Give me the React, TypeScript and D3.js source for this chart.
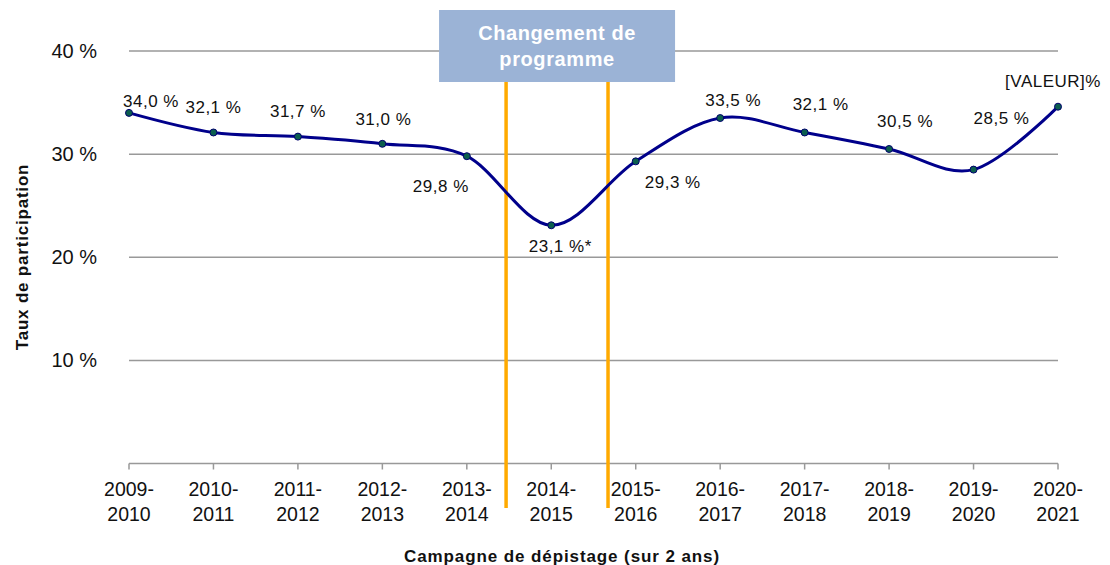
import React from "react";
import * as d3 from "d3";

const categories = [
  ["2009-", "2010"], ["2010-", "2011"], ["2011-", "2012"], ["2012-", "2013"],
  ["2013-", "2014"], ["2014-", "2015"], ["2015-", "2016"], ["2016-", "2017"],
  ["2017-", "2018"], ["2018-", "2019"], ["2019-", "2020"], ["2020-", "2021"],
];
const values = [34.0, 32.1, 31.7, 31.0, 29.8, 23.1, 29.3, 33.5, 32.1, 30.5, 28.5, 34.6];
const valueLabels = ["34,0 %", "32,1 %", "31,7 %", "31,0 %", "29,8 %", "23,1 %*", "29,3 %", "33,5 %", "32,1 %", "30,5 %", "28,5 %", "[VALEUR]%"];
const yTicks = [10, 20, 30, 40];
const yTickLabels = ["10 %", "20 %", "30 %", "40 %"];
// programme change markers, in category-index units
const changeMarks = [4.465, 5.672];
const changeText = ["Changement de", "programme"];

// label placement offsets (layout)
const labelOffsets: [number, number][] = [
  [22, -11], [0, -25], [0, -25], [1, -24], [-26, 30], [9, 21],
  [37, 21], [13, -18], [16, -28], [16, -27], [28, -51], [-5, -25],
];

const W = 1110, H = 565;
const FONT = "'Liberation Sans', Arial, sans-serif";

export default function App() {
  const x = d3.scaleLinear().domain([0, categories.length - 1]).range([129, 1058]);
  const y = d3.scaleLinear().domain([0, 40]).range([463.5, 51]);
  const line = d3.line<number>()
    .x((_, i) => x(i))
    .y((d) => y(d))
    .curve(d3.curveCardinal.tension(0));
  const boxCx = (x(changeMarks[0]) + x(changeMarks[1])) / 2;
  const boxW = 236;

  return (
    <svg width={W} height={H} style={{ position: "absolute", left: 0, top: 0, background: "#fff" }} fontFamily={FONT}>
      {/* gridlines */}
      {yTicks.map((t) => (
        <line key={t} x1={x(0)} x2={x(11)} y1={y(t)} y2={y(t)} stroke="#999" strokeWidth={1.5} />
      ))}
      {/* y tick labels */}
      {yTicks.map((t, i) => (
        <text key={t} x={97} y={y(t)} textAnchor="end" dominantBaseline="central" fontSize={20} fill="#111">
          {yTickLabels[i]}
        </text>
      ))}
      {/* x axis */}
      <line x1={x(0)} x2={x(11)} y1={y(0)} y2={y(0)} stroke="#999" strokeWidth={1.5} />
      {categories.map((c, i) => (
        <g key={i}>
          <line x1={x(i)} x2={x(i)} y1={y(0)} y2={y(0) + 6} stroke="#999" strokeWidth={1.5} />
          <text x={x(i)} y={496} textAnchor="middle" fontSize={19.5} fill="#111">{c[0]}</text>
          <text x={x(i)} y={521} textAnchor="middle" fontSize={19.5} fill="#111">{c[1]}</text>
        </g>
      ))}
      {/* change lines */}
      {changeMarks.map((m, i) => (
        <line key={i} x1={x(m)} x2={x(m)} y1={82} y2={508} stroke="#FFAA00" strokeWidth={3.5} />
      ))}
      {/* box */}
      <rect x={boxCx - boxW / 2} y={10} width={boxW} height={72} fill="#9BB3D6" />
      {changeText.map((t, i) => (
        <text key={i} x={boxCx} y={40 + i * 26} textAnchor="middle" fontSize={20} letterSpacing={0.6} fontWeight="bold" fill="#fff">{t}</text>
      ))}
      {/* series */}
      <path d={line(values) || ""} fill="none" stroke="#00008B" strokeWidth={3} />
      {values.map((v, i) => (
        <circle key={i} cx={x(i)} cy={y(v)} r={3.5} fill="#0B5E4E" stroke="#00006E" strokeWidth={1} />
      ))}
      {values.map((v, i) => (
        <text key={i} x={x(i) + labelOffsets[i][0]} y={y(v) + labelOffsets[i][1]} textAnchor="middle" dominantBaseline="central" fontSize={17} letterSpacing={0.5} fill="#111">
          {valueLabels[i]}
        </text>
      ))}
      {/* axis titles */}
      <text transform="translate(28,257) rotate(-90)" textAnchor="middle" fontSize={17} letterSpacing={0.8} fontWeight="bold" fill="#111">Taux de participation</text>
      <text x={562} y={562} textAnchor="middle" fontSize={17} letterSpacing={0.9} fontWeight="bold" fill="#111">Campagne de dépistage (sur 2 ans)</text>
    </svg>
  );
}
